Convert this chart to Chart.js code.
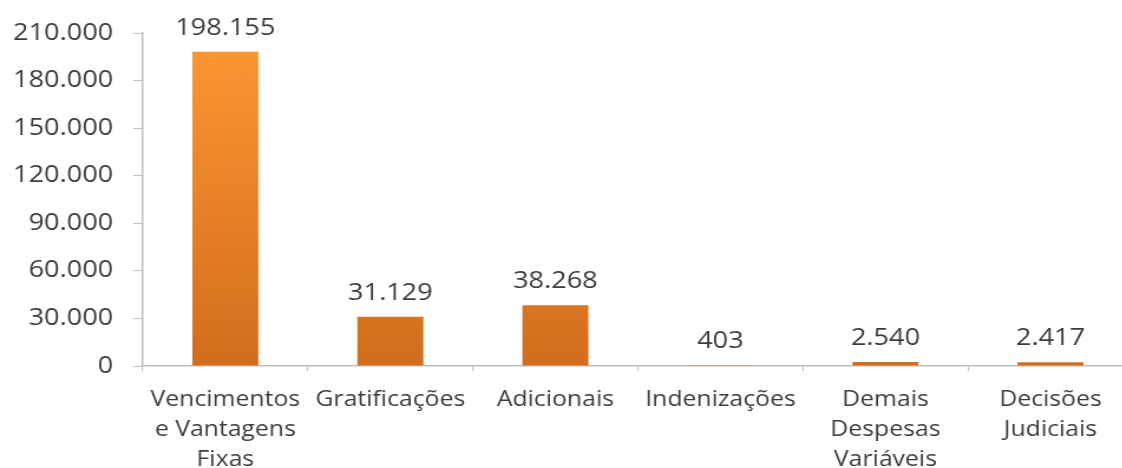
<!DOCTYPE html>
<html lang="pt-BR">
<head>
<meta charset="utf-8">
<title>Despesas com pessoal</title>
<script src="https://cdn.jsdelivr.net/npm/chart.js@4"></script>
<style>
  html, body { margin: 0; padding: 0; background: #fff; overflow: hidden; }
  #chart { display: block; }
</style>
</head>
<body>
<!-- drawn narrow and stretched wide, like the original export -->
<canvas id="chart" width="960" height="468" style="width:1133px;height:468px"></canvas>
<script>
const categories = [
  ["Vencimentos", "e Vantagens", "Fixas"],
  "Gratificações",
  "Adicionais",
  "Indenizações",
  ["Demais", "Despesas", "Variáveis"],
  ["Decisões", "Judiciais"]
];
const values = [198155, 31129, 38268, 403, 2540, 2417];
const yMax = 210000;
const yStep = 30000;

const textColor = "#3c3c3c";
const axisColor = "#bfbfbf";
const fontFamily = "'Open Sans', sans-serif";

// 198155 -> "198.155"
function fmt(n) {
  return String(n).replace(/\B(?=(\d{3})+(?!\d))/g, ".");
}

// value labels above each bar
const valueLabels = {
  id: "valueLabels",
  afterDatasetsDraw(chart) {
    const ctx = chart.ctx;
    const meta = chart.getDatasetMeta(0);
    ctx.save();
    ctx.font = "23px " + fontFamily;
    ctx.fillStyle = textColor;
    ctx.textAlign = "center";
    ctx.textBaseline = "alphabetic";
    meta.data.forEach((bar, i) => {
      ctx.fillText(fmt(values[i]), bar.x, bar.y - 17);
    });
    ctx.restore();
  }
};

const ctx = document.getElementById("chart");

const chart = new Chart(ctx, {
  type: "bar",
  data: {
    labels: categories,
    datasets: [{
      data: values,
      borderWidth: 0,
      barPercentage: 0.4,
      categoryPercentage: 1,
      backgroundColor: (c) => {
        const area = c.chart.chartArea;
        if (!area) return "#f08a2a";
        const g = c.chart.ctx.createLinearGradient(0, area.top, 0, area.bottom);
        g.addColorStop(0, "#fe9833");
        g.addColorStop(1, "#d26d1d");
        return g;
      }
    }]
  },
  options: {
    responsive: false,
    devicePixelRatio: 1,
    animation: false,
    layout: { padding: { top: 33, right: 0, left: 0, bottom: 0 } },
    plugins: {
      legend: { display: false },
      tooltip: { enabled: false }
    },
    scales: {
      x: {
        afterFit: (scale) => { scale.height = 102; },
        border: { display: true, color: axisColor, width: 1.5 },
        grid: {
          drawOnChartArea: false,
          drawTicks: true,
          tickLength: 5,
          color: axisColor,
          offset: true
        },
        ticks: {
          color: textColor,
          padding: 14,
          maxRotation: 0,
          autoSkip: false,
          font: { family: fontFamily, size: 21, lineHeight: 1.43 }
        }
      },
      y: {
        min: 0,
        max: yMax,
        afterFit: (scale) => { scale.width = 121; },
        border: { display: true, color: axisColor, width: 1.5 },
        grid: {
          drawOnChartArea: false,
          drawTicks: true,
          tickLength: 8,
          color: axisColor
        },
        ticks: {
          stepSize: yStep,
          color: textColor,
          padding: 17,
          font: { family: fontFamily, size: 23 },
          callback: (v) => fmt(v)
        }
      }
    }
  },
  plugins: [valueLabels]
});
</script>
</body>
</html>
